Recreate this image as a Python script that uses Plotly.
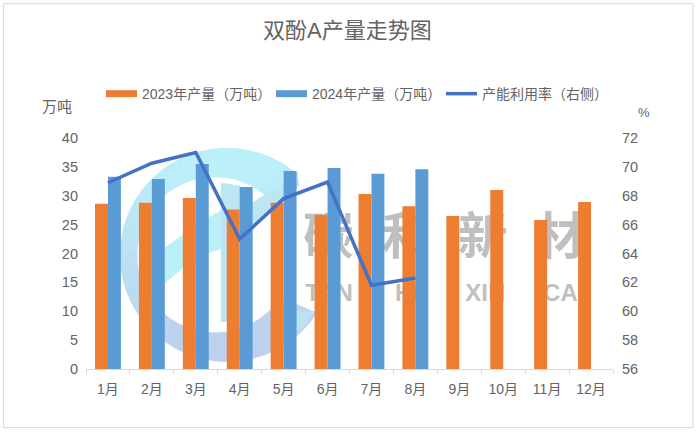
import numpy as np
import plotly.graph_objects as go
from plotly.subplots import make_subplots


W, H = 698, 432
LEFT, RIGHT, TOP, BOTTOM = 86, 612.7, 138, 369.3
CN_FONT = "Liberation Sans, Noto Sans CJK SC"
GREY = "#636363"


def to_paper(px, py):
    return (px - LEFT) / (RIGHT - LEFT), (BOTTOM - py) / (BOTTOM - TOP)


def poly(points, color):
    path = ""
    for i, (px, py) in enumerate(points):
        x, y = to_paper(px, py)
        path += ("M" if i == 0 else "L") + f"{x:.5f},{y:.5f} "
    return dict(type="path", xref="paper", yref="paper", path=path + "Z", layer="below",
                fillcolor=color, line=dict(color=color, width=0.5))


def mix(c1, c2, t):
    return "rgb(" + ",".join(str(int(round(a + (b - a) * t))) for a, b in zip(c1, c2)) + ")"


def logo_shapes():
    # watermark behind the bars
    shapes = []
    top_col, bottom_col = (187, 240, 249), (189, 208, 238)
    angles = np.radians(np.linspace(-50, -327, 40))
    for a, b in zip(angles[:-1], angles[1:]):
        pts = [(227 + 107 * np.cos(a), 255 + 107 * np.sin(a)),
               (227 + 107 * np.cos(b), 255 + 107 * np.sin(b)),
               (215 + 78 * np.cos(b), 255 + 78 * np.sin(b)),
               (215 + 78 * np.cos(a), 255 + 78 * np.sin(a))]
        t = (255 + 107 * np.sin((a + b) / 2) - 148) / 214
        shapes.append(poly(pts, mix(top_col, bottom_col, t)))
    shapes.append(poly([(297, 312), (315, 312), (300, 330), (272, 322)], "#bfe0f3"))
    shapes.append(poly([(165, 248), (183, 235), (208, 218), (227, 207), (227, 247),
                        (208, 253), (183, 268), (165, 283)], "#bbf0f9"))
    shapes.append(poly([(221, 183), (240, 186), (252, 203), (285, 182), (297, 172),
                        (299, 185), (285, 200), (252, 228), (227, 247), (227, 322), (221, 322)],
                       "#bde6f5"))
    return shapes


def label_shape(x0, x1, y0, y1, text, size, family):
    xa, ya = to_paper(x0, y1)
    xb, yb = to_paper(x1, y0)
    return dict(type="rect", xref="paper", yref="paper", x0=xa, x1=xb, y0=ya, y1=yb,
                layer="below", line=dict(width=0), fillcolor="rgba(0,0,0,0)",
                label=dict(text=text, textposition="middle center",
                           font=dict(size=size, color="#bfbfbf", family=family)))


months = [f"{i}月" for i in range(1, 13)]
output_2023 = [28.6, 28.8, 29.6, 27.6, 28.8, 26.7, 30.3, 28.2, 26.5, 31.0, 25.8, 28.9]
output_2024 = [33.3, 32.9, 35.5, 31.5, 34.3, 34.8, 33.8, 34.6, None, None, None, None]
utilization = [68.9, 70.25, 71.0, 65.0, 67.8, 68.95, 61.8, 62.3, None, None, None, None]

fig = make_subplots(specs=[[{"secondary_y": True}]])
fig.add_trace(go.Bar(x=months, y=output_2023, marker=dict(color="#ed7d31", line_width=0),
                     showlegend=False))
fig.add_trace(go.Bar(x=months, y=output_2024, marker=dict(color="#5b9bd5", line_width=0),
                     showlegend=False))
fig.add_trace(go.Scatter(
    x=months, y=utilization, mode="lines", showlegend=False,
    line=dict(color="#4472c4", width=3.5)), secondary_y=True)

# legend keys: wide flat swatches
fig.add_trace(go.Scatter(x=[months[0]], y=[None], mode="lines", name="2023年产量（万吨）",
                         line=dict(color="#ed7d31", width=7)))
fig.add_trace(go.Scatter(x=[months[0]], y=[None], mode="lines", name="2024年产量（万吨）",
                         line=dict(color="#5b9bd5", width=7)))
fig.add_trace(go.Scatter(x=[months[0]], y=[None], mode="lines", name="产能利用率（右侧）",
                         line=dict(color="#4472c4", width=3.5)))

shapes = logo_shapes()
for text, x0, x1 in [("碳", 303, 353), ("和", 383, 430), ("新", 458, 507), ("材", 537, 583)]:
    shapes.append(label_shape(x0, x1, 213, 268, f"<b>{text}</b>", 50, "Noto Sans CJK SC"))
for text, x0, x1 in [("TAN", 303, 355), ("HE", 393, 430), ("XIN", 463, 507), ("CAI", 537, 590)]:
    shapes.append(label_shape(x0, x1, 281, 301, f"<b>{text}</b>", 24, "Liberation Sans"))
x0, y0 = to_paper(3.5, 428)
x1, y1 = to_paper(692.5, 3.5)
shapes.append(dict(type="rect", xref="paper", yref="paper", x0=x0, x1=x1, y0=y0, y1=y1,
                   layer="below", line=dict(color="#d9d9d9", width=1)))

notes = [("双酚A产量走势图", 347, 30, 22), ("万吨", 57, 106, 15), ("%", 644, 112, 13)]
annotations = []
for text, px, py, size in notes:
    x, y = to_paper(px, py)
    annotations.append(dict(text=text, x=x, y=y, xref="paper", yref="paper", showarrow=False,
                            xanchor="center", yanchor="middle",
                            font=dict(size=size, color=GREY, family=CN_FONT)))

fig.update_layout(
    width=W, height=H,
    margin=dict(l=LEFT, r=W - RIGHT, t=TOP, b=H - BOTTOM, autoexpand=False),
    plot_bgcolor="rgba(0,0,0,0)", paper_bgcolor="white",
    barmode="group", bargap=0.41, bargroupgap=0,
    font=dict(family=CN_FONT, color=GREY, size=14),
    shapes=shapes, annotations=annotations,
    legend=dict(orientation="h", x=to_paper(101, 0)[0], y=to_paper(0, 78)[1], xanchor="left",
                yanchor="top", itemwidth=31, entrywidth=124, entrywidthmode="pixels",
                font=dict(size=14, color=GREY), bgcolor="rgba(0,0,0,0)"),
)
fig.update_xaxes(domain=[0, 1], showgrid=False, showline=True, linecolor="#d9d9d9", ticks="outside",
                 tickson="boundaries", ticklen=4, tickcolor="#d9d9d9", tickfont=dict(size=14),
                 ticklabelstandoff=7)
fig.update_yaxes(range=[0, 40], dtick=5, showgrid=False, zeroline=False, ticklabelstandoff=7,
                 tickfont=dict(size=14.5), secondary_y=False)
fig.update_yaxes(range=[56, 72], dtick=2, showgrid=False, zeroline=False, ticklabelstandoff=8,
                 tickfont=dict(size=14.5), secondary_y=True)

fig.write_html("out.html", config=dict(displayModeBar=False),
               post_script="document.body.style.margin='0';")
